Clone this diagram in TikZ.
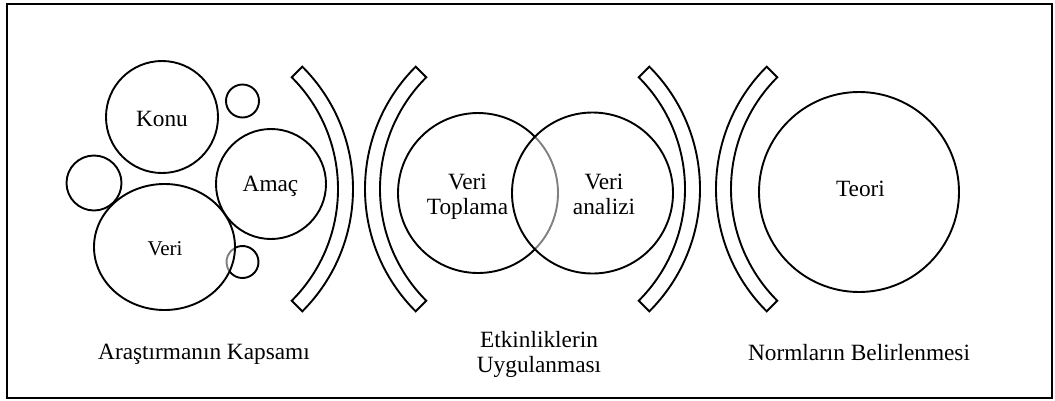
\documentclass[tikz,border=0pt]{standalone}
\usepackage{fontspec}
\setmainfont{Liberation Serif}
\definecolor{arcgray}{gray}{0.5}
\begin{document}
\begin{tikzpicture}[x=1pt,y=-1pt,
  ring/.style={draw=black,line width=1.9pt},
  band/.style={draw=black,line width=1.9pt,line join=miter},
  txt/.style={font=\fontsize{23.3}{24.5}\selectfont,inner sep=0pt,anchor=base,align=center},
  smalltxt/.style={font=\fontsize{21}{24}\selectfont,inner sep=0pt,anchor=base}]
\useasboundingbox (0,0) rectangle (1055,400);
\draw[line width=1.9pt] (7,3.7) rectangle (1052,398.3);

% --- scope of the research: cluster of circles
\coordinate (cKonu) at (162,117);
\coordinate (cTop) at (242.5,101);
\coordinate (cAmac) at (271,184);
\coordinate (cLeft) at (94,183);
\coordinate (cVeri) at (164.5,247);
\coordinate (cSmall) at (242.5,262);

\draw[ring] (cKonu) circle[radius=56];
\draw[ring] (cTop) circle[radius=16.5];
\draw[ring] (cAmac) circle[radius=55];
\draw[ring] (cLeft) circle[radius=27.5];
% small circle: outer part black, part inside the ellipse grey
\draw[ring] (cSmall) ++(-118:16) arc[start angle=-118,end angle=144,radius=16];
\draw[ring,draw=arcgray] (cSmall) ++(144:16) arc[start angle=144,end angle=242,radius=16];
\draw[ring] (cVeri) ellipse[x radius=70.5,y radius=63];

\node[txt] (konu) at (162,126) {Konu};
\node[txt] (amac) at (270.5,191.7) {Amaç};
\node[smalltxt] (veri) at (165,255) {Veri};

% --- brackets: ")" shapes have their centre on the left, "(" on the right
\coordinate (b1) at (180,189);
\coordinate (b2) at (538,189);
\coordinate (b3) at (527,189);
\coordinate (b4) at (889,189);
\draw[band] (b1) ++(-45:158) arc[start angle=-45,end angle=45,radius=158]
  -- ++(45:15) arc[start angle=45,end angle=-45,radius=173] -- cycle;
\draw[band] (b2) ++(135:158) arc[start angle=135,end angle=225,radius=158]
  -- ++(225:15) arc[start angle=225,end angle=135,radius=173] -- cycle;
\draw[band] (b3) ++(-45:158) arc[start angle=-45,end angle=45,radius=158]
  -- ++(45:15) arc[start angle=45,end angle=-45,radius=173] -- cycle;
\draw[band] (b4) ++(135:158) arc[start angle=135,end angle=225,radius=158]
  -- ++(225:15) arc[start angle=225,end angle=135,radius=173] -- cycle;

% --- activities: two overlapping circles
\coordinate (cTop2) at (478,193);
\coordinate (cAna) at (592.5,193);
\draw[ring] (cTop2) ++(44.7:80) arc[start angle=44.7,end angle=315.3,radius=80];
\draw[ring,draw=arcgray] (cTop2) ++(-44.7:80) arc[start angle=-44.7,end angle=44.7,radius=80];
\draw[ring] (cAna) circle[radius=80.5];
% two-line nodes sit on the baseline of their last line
\node[txt] (toplama) at (467.5,214) {Veri\\Toplama};
\node[txt] (analiz) at (604,214) {Veri\\analizi};

% --- norms
\coordinate (cTeori) at (859,192);
\draw[ring] (cTeori) circle[radius=100];
\node[txt] (teori) at (860.5,196) {Teori};

% --- captions
\node[txt] (kapsam) at (204,359) {Araştırmanın Kapsamı};
\node[txt] (etkin) at (539,372) {Etkinliklerin\\Uygulanması};
\node[txt] (norm) at (859,360) {Normların Belirlenmesi};
\end{tikzpicture}
\end{document}
